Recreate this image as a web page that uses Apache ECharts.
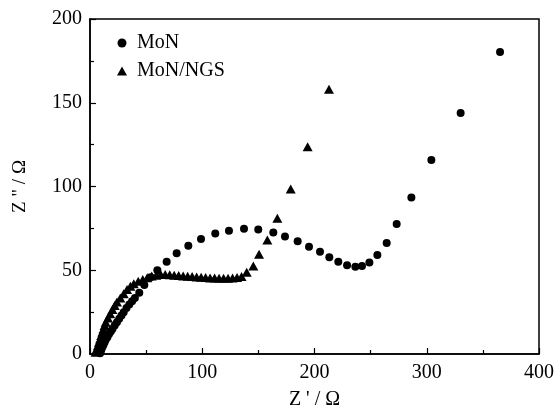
<!DOCTYPE html>
<html>
<head>
<meta charset="utf-8">
<script src="https://cdn.jsdelivr.net/npm/echarts@6/dist/echarts.min.js"></script>
<style>
  html, body { margin: 0; padding: 0; background: #fff; }
  #main { width: 560px; height: 409px; }
</style>
</head>
<body>
<div id="main"></div>
<script>
// MoN (circles)
var monX = [9, 9.5, 10, 11, 12, 13, 14, 15.5, 17, 18.5, 20, 22, 24, 26, 28, 30, 32.5, 35, 37.5, 40, 43.9, 48.4, 54, 60, 68.3, 77.2, 87.6, 98.9, 111.6, 123.8, 137.2, 149.9, 163.3, 173.7, 185, 195.1, 204.9, 213.2, 221.2, 229, 236.4, 242.3, 248.9, 256, 264.3, 273.2, 286.3, 304.1, 330.2, 365.3]
var monY = [0.5, 1.5, 2.5, 4, 5.5, 7, 8.5, 10, 12, 13.5, 15, 17, 19, 21, 23, 25, 27.5, 29.5, 31.5, 33.5, 36.6, 41.2, 45.8, 50, 55.1, 60.1, 64.7, 68.7, 72, 73.6, 74.8, 74.4, 72.6, 70.2, 67.3, 64.1, 61.1, 57.7, 55.1, 53, 52.1, 52.5, 54.7, 59.1, 66.3, 77.6, 93.5, 115.8, 143.9, 180.3]
// MoN/NGS (triangles)
var ngsX = [5, 6, 7, 8, 9, 10, 11, 12, 13, 14, 16, 18, 20, 22, 24, 27, 30, 33, 36, 39, 43, 47, 51, 55, 59, 63, 67, 71, 75, 79, 83, 87, 91, 95, 99, 103, 107, 111, 115, 119, 123, 127, 131, 135, 139.6, 145.5, 150.6, 158, 166.9, 178.8, 193.9, 212.9]
var ngsY = [1, 3, 5, 7, 9, 11, 13, 15, 17, 19, 21.5, 24, 26.5, 29, 31, 33.5, 36, 38.5, 40.5, 42, 43.5, 44.5, 45.5, 46.5, 47, 47.5, 47.5, 47.3, 47, 46.8, 46.6, 46.4, 46.2, 46, 45.8, 45.6, 45.4, 45.3, 45.2, 45.2, 45.2, 45.3, 45.6, 46.3, 48.8, 52.5, 59.5, 68, 81, 98.5, 123.8, 158]

var xTicks = [0, 100, 200, 300, 400]
var yTicks = [0, 50, 100, 150, 200]

function pairs (xs, ys) {
  return xs.map(function (x, i) { return [x, ys[i]] })
}

var serif = '"Liberation Serif", "DejaVu Serif", serif'

var chart = echarts.init(document.getElementById('main'))

function axisBase (name) {
  return {
    type: 'value',
    name: name,
    nameLocation: 'middle',
    nameTextStyle: { fontFamily: serif, fontSize: 20, color: '#000' },
    axisLine: { show: true, lineStyle: { color: '#000', width: 1.5 } },
    axisTick: { show: true, inside: true, length: 6, lineStyle: { color: '#000', width: 1.2 } },
    minorTick: { show: true, splitNumber: 2, length: 4, lineStyle: { color: '#000', width: 1.2 } },
    splitLine: { show: false },
    axisLabel: { fontFamily: serif, fontSize: 20, color: '#000' }
  }
}

var xAxis = axisBase("Z ' / Ω")
xAxis.min = xTicks[0]
xAxis.max = xTicks[xTicks.length - 1]
xAxis.interval = 100
xAxis.nameGap = 36
xAxis.axisLabel.margin = 9

var yAxis = axisBase('Z " / Ω')
yAxis.min = yTicks[0]
yAxis.max = yTicks[yTicks.length - 1]
yAxis.interval = 50
yAxis.nameGap = 60
yAxis.nameTextStyle.fontSize = 19
yAxis.axisLabel.margin = 8

chart.setOption({
  backgroundColor: '#fff',
  animation: false,
  grid: {
    left: 90, right: 21, top: 19, bottom: 55,
    outerBoundsMode: 'none',
    containLabel: false,
    show: true, borderColor: '#000', borderWidth: 1.5, backgroundColor: 'transparent'
  },
  legend: {
    orient: 'vertical',
    left: 112,
    top: 28,
    itemWidth: 10,
    itemHeight: 9,
    itemGap: 8,
    textStyle: { fontFamily: serif, fontSize: 20, color: '#000', padding: [0, 0, 0, 5] },
    data: [
      { name: 'MoN', icon: 'circle', itemStyle: { color: '#000', opacity: 1 } },
      { name: 'MoN/NGS', icon: 'triangle', itemStyle: { color: '#000', opacity: 1 } }
    ]
  },
  xAxis: xAxis,
  yAxis: yAxis,
  series: [
    {
      name: 'MoN',
      type: 'scatter',
      symbol: 'circle',
      symbolSize: 8,
      itemStyle: { color: '#000', opacity: 1 },
      data: pairs(monX, monY)
    },
    {
      name: 'MoN/NGS',
      type: 'scatter',
      symbol: 'triangle',
      symbolSize: [10, 9],
      itemStyle: { color: '#000', opacity: 1 },
      data: pairs(ngsX, ngsY)
    }
  ]
})
</script>
</body>
</html>
